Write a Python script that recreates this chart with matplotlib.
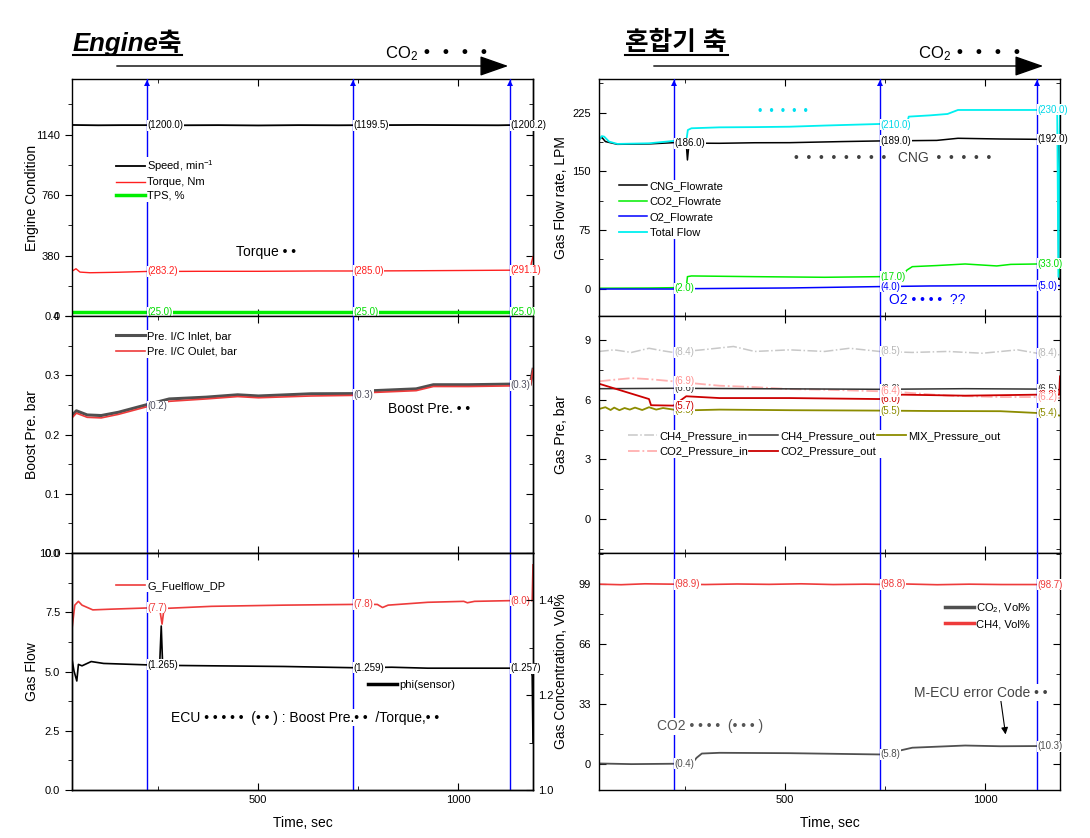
import matplotlib
matplotlib.use('Agg')
import numpy as np
import matplotlib.pyplot as plt
from matplotlib.ticker import MultipleLocator
from matplotlib.lines import Line2D

plt.rcParams['font.family'] = ['Liberation Sans', 'Noto Sans CJK KR', 'DejaVu Sans']
plt.rcParams['mathtext.default'] = 'regular'
plt.rcParams['axes.linewidth'] = 1.0

# common time axis and marker times (blue lines)
x_lim = (35, 1187)
t_mark = [222, 736, 1129]

# ---------------- engine side ----------------
t_spd = [35, 100, 160, 222, 300, 400, 500, 600, 700, 736, 800, 900, 1000, 1100, 1129, 1187]
speed = [1201, 1199, 1200, 1200, 1199, 1200, 1198, 1200, 1199, 1199.5, 1200, 1201, 1200, 1199, 1200.2, 1200]
t_trq = [35, 45, 55, 80, 150, 222, 255, 259, 263, 350, 500, 650, 736, 850, 1000, 1129, 1180, 1183, 1187]
torque = [282, 297, 276, 272, 275, 280, 280, 250, 280, 281, 281, 283, 283, 284, 286, 288, 288, 335, 372]
t_tps = [35, 1187]
tps = [25, 25]
lab_speed = ['(1200.0)', '(1199.5)', '(1200.2)']
lab_torque = ['(283.2)', '(285.0)', '(291.1)']
lab_tps = ['(25.0)', '(25.0)', '(25.0)']

t_bst = [35, 46, 73, 108, 151, 223, 278, 370, 449, 501, 632, 736, 790, 895, 938, 1026, 1129, 1180, 1187]
boost_in = [0.232, 0.240, 0.233, 0.232, 0.2375, 0.2505, 0.260, 0.263, 0.267, 0.265, 0.2687,
            0.269, 0.274, 0.277, 0.284, 0.284, 0.285, 0.284, 0.31]
boost_out = [0.228, 0.236, 0.229, 0.228, 0.234, 0.247, 0.256, 0.260, 0.264, 0.262, 0.265,
             0.266, 0.271, 0.274, 0.281, 0.281, 0.282, 0.281, 0.31]
lab_boost = ['(0.2)', '(0.3)', '(0.3)']

t_fuel = [35, 42, 51, 60, 87, 132, 222, 254, 260, 265, 384, 564, 737, 798, 811, 825, 924,
          1014, 1023, 1041, 1131, 1185, 1187]
fuel = [6.8, 7.8, 7.96, 7.8, 7.6, 7.63, 7.68, 7.66, 7.0, 7.66, 7.75, 7.8, 7.83, 7.83, 7.7,
        7.8, 7.92, 7.96, 7.9, 7.96, 7.99, 7.99, 9.5]
t_phi = [35, 40, 47, 51, 60, 83, 114, 222, 254, 258, 261, 264, 384, 564, 737, 834, 924,
         1131, 1182, 1185, 1187]
phi = [1.276, 1.251, 1.230, 1.265, 1.262, 1.271, 1.267, 1.264, 1.263, 1.346, 1.275, 1.263,
       1.262, 1.2606, 1.258, 1.259, 1.257, 1.257, 1.257, 1.24, 1.10]
lab_fuel = ['(7.7)', '(7.8)', '(8.0)']
lab_phi = ['(1.265)', '(1.259)', '(1.257)']

# ---------------- mixer side ----------------
t_cng = [35, 42, 51, 81, 160, 221, 253, 256, 260, 336, 424, 511, 643, 736, 818, 879, 932,
         1038, 1130, 1182, 1184, 1187]
cng = [190.9, 193.4, 188, 184.5, 185, 186.6, 186, 164.5, 186, 185.8, 186.5, 186.6, 188,
       188.8, 189.2, 189.5, 192.2, 191.3, 190.9, 191, 12, 12]
t_tot = [35, 42, 48, 60, 81, 160, 221, 253, 257, 266, 336, 424, 511, 599, 736, 805, 809,
         862, 906, 932, 1038, 1130, 1180, 1183, 1187]
total = [190, 195, 194.3, 188, 185, 185.8, 188.8, 188, 202.8, 205, 206.2, 206.5, 207, 208.5,
         210.5, 211.5, 219.9, 221.5, 223.3, 228.4, 228.4, 228.4, 229, 15, 232]
t_co2f = [35, 160, 221, 253, 256, 266, 424, 599, 736, 792, 805, 818, 879, 950, 1029, 1064,
          1130, 1182, 1187]
co2f = [0.5, 0.8, 1.2, 1.0, 15.3, 16.2, 15.3, 14.5, 15.3, 16, 23.9, 28.1, 29.5, 31.5, 29, 31,
        31.5, 31, 20]
t_o2f = [35, 221, 231, 274, 511, 736, 862, 1130, 1187]
o2f = [-0.5, -0.5, -1, 0, 0.85, 2.6, 3.4, 3.8, 3.8]
lab_cng = ['(186.0)', '(189.0)', '(192.0)']
lab_tot = [None, '(210.0)', '(230.0)']
lab_co2f = ['(2.0)', '(17.0)', '(33.0)']
lab_o2f = [None, '(4.0)', '(5.0)']

t_ch4in = [35, 73, 116, 160, 195, 221, 292, 371, 424, 511, 599, 661, 736, 818, 906, 993,
           1081, 1130, 1187]
ch4_in = [8.42, 8.5, 8.37, 8.58, 8.45, 8.37, 8.5, 8.67, 8.42, 8.5, 8.42, 8.58, 8.42, 8.37,
          8.42, 8.33, 8.5, 8.33, 8.25]
t_ch4out = [35, 221, 424, 736, 950, 1130, 1187]
ch4_out = [6.55, 6.57, 6.55, 6.52, 6.55, 6.53, 6.5]
t_co2in = [35, 73, 116, 160, 221, 266, 336, 424, 511, 599, 736, 792, 906, 1038, 1130, 1187]
co2_in = [6.92, 7.0, 7.08, 7.03, 6.92, 6.83, 6.7, 6.63, 6.53, 6.5, 6.42, 6.37, 6.2, 6.13,
          6.13, 6.08]
t_co2out = [35, 160, 165, 221, 253, 336, 511, 736, 792, 950, 1130, 1185, 1187]
co2_out = [6.8, 6.03, 5.72, 5.7, 6.17, 6.08, 6.08, 6.03, 6.25, 6.2, 6.25, 6.25, 7.17]
t_mix = [35, 51, 64, 73, 86, 99, 112, 125, 143, 160, 178, 195, 221, 231, 336, 511, 736, 862,
         1038, 1130, 1187]
mix_out = [5.53, 5.62, 5.48, 5.6, 5.47, 5.58, 5.5, 5.6, 5.48, 5.62, 5.5, 5.58, 5.5, 5.45,
           5.5, 5.47, 5.45, 5.43, 5.42, 5.33, 5.2]
lab_ch4in = ['(8.4)', '(8.5)', '(8.4)']
lab_ch4out = ['(6.6)', '(6.6)', '(6.5)']
lab_co2in = ['(6.9)', '(6.4)', '(6.2)']
lab_co2out = ['(5.7)', '(6.0)', '(6.2)']
lab_mix = ['(5.5)', '(5.5)', '(5.4)']

t_ch4c = [35, 90, 150, 221, 300, 380, 460, 540, 620, 700, 736, 800, 880, 960, 1040, 1130, 1187]
ch4_conc = [98.9, 98.6, 99.1, 98.9, 98.7, 99.0, 98.8, 99.1, 98.7, 98.9, 98.8, 99.0, 98.6,
            98.9, 98.7, 98.7, 98.8]
t_co2c = [35, 116, 221, 266, 279, 292, 336, 511, 736, 774, 788, 818, 862, 950, 1038, 1130]
co2_conc = [0.55, 0.2, 0.4, 0.1, 3.7, 6.0, 6.4, 6.2, 5.5, 5.7, 7.7, 9.2, 9.6, 10.4, 10.0, 10.1]
lab_ch4c = ['(98.9)', '(98.8)', '(98.7)']
lab_co2c = ['(0.4)', '(5.8)', '(10.3)']

LW_FRAC = 461 / 1090
H_FRAC = 237 / 838
XL, XR = 72 / 1090, 599 / 1090
Y_TOP, Y_MID, Y_BOT = 1 - 316 / 838, 1 - 553 / 838, 1 - 790 / 838

fig = plt.figure(figsize=(10.9, 8.38), dpi=100)


def frame(ax, ylim, major, minor, left_out, xlab):
    ax.set_xlim(x_lim)
    ax.set_ylim(ylim)
    ax.xaxis.set_major_locator(MultipleLocator(500))
    ax.xaxis.set_minor_locator(MultipleLocator(250))
    ax.yaxis.set_major_locator(MultipleLocator(major))
    ax.yaxis.set_minor_locator(MultipleLocator(minor))
    ax.tick_params(axis='x', which='both', direction='in', top=True, bottom=True,
                   labelbottom=xlab, labelsize=8)
    if left_out:
        ax.tick_params(axis='y', which='both', direction='out', right=False, labelsize=8)
    else:
        ax.tick_params(axis='y', which='both', direction='in', right=True, labelsize=8, pad=6)
    ax.tick_params(which='major', length=5)
    ax.tick_params(which='minor', length=3)
    for t in t_mark:
        ax.axvline(t, color='blue', lw=1, zorder=3)
    if xlab:
        ax.set_xlabel('Time, sec', fontsize=10, labelpad=8)


def right_ticks(ax, major, minor):
    sec = ax.secondary_yaxis('right')
    sec.yaxis.set_major_locator(MultipleLocator(major))
    sec.yaxis.set_minor_locator(MultipleLocator(minor))
    sec.tick_params(which='both', direction='in', labelright=False)
    sec.tick_params(which='major', length=5)
    sec.tick_params(which='minor', length=3)


def tags(ax, vals, labels, color):
    for t, v, s in zip(t_mark, vals, labels):
        if s is None:
            continue
        ax.text(t + 2, v, s, color=color, fontsize=7, ha='left', va='center', zorder=6,
                bbox=dict(boxstyle='square,pad=0.05', fc='white', ec='none'))


def leg(ax, anchor, spacing=0.5, **kw):
    lg = ax.legend(loc='upper left', bbox_to_anchor=anchor, fontsize=8, frameon=True,
                   facecolor='white', edgecolor='none', framealpha=1, handlelength=2.6,
                   handletextpad=0.2, labelspacing=spacing, borderpad=0.1, borderaxespad=0,
                   **kw)
    lg.set_zorder(7)
    return lg


def top_heads(ax):
    ax.plot(t_mark, [0.985] * 3, '^', color='blue', ms=5, mew=0,
            transform=ax.get_xaxis_transform(), clip_on=False, zorder=4)


# ---- top left: engine condition
ax1 = fig.add_axes([XL, Y_TOP, LW_FRAC, H_FRAC])
frame(ax1, (0, 1490), 380, 190, True, False)
right_ticks(ax1, 380, 190)
ax1.plot(t_spd, speed, color='black', lw=1.3, label='Speed, min$^{-1}$')
ax1.plot(t_trq, torque, color='#ff2020', lw=1, label='Torque, Nm')
ax1.plot(t_tps, tps, color='#00ee00', lw=2.5, label='TPS, %')
tags(ax1, [1200, 1199.5, 1200.2], lab_speed, 'black')
tags(ax1, [281, 283, 288], lab_torque, '#ff2020')
tags(ax1, [25, 25, 25], lab_tps, '#00dd00')
leg(ax1, (0.093, 0.67), spacing=0.3)
ax1.text(445, 404, 'Torque • •', fontsize=10, va='center')
ax1.set_ylabel('Engine Condition', fontsize=10)
ax1.yaxis.set_label_coords(-0.072, 0.5)
top_heads(ax1)

# ---- middle left: boost pressure
ax2 = fig.add_axes([XL, Y_MID, LW_FRAC, H_FRAC])
frame(ax2, (0, 0.4), 0.1, 0.05, True, False)
right_ticks(ax2, 0.1, 0.05)
ax2.plot(t_bst, boost_in, color='#505050', lw=2.2, label='Pre. I/C Inlet, bar')
ax2.plot(t_bst, boost_out, color='#ee3b3b', lw=1.2, label='Pre. I/C Oulet, bar')
tags(ax2, [0.248, 0.267, 0.283], lab_boost, '#505060')
leg(ax2, (0.093, 0.94))
ax2.text(825, 0.243, 'Boost Pre. • •', fontsize=10, va='center',
         bbox=dict(boxstyle='square,pad=0.1', fc='white', ec='none'), zorder=6)
ax2.set_ylabel('Boost Pre. bar', fontsize=10)
ax2.yaxis.set_label_coords(-0.072, 0.5)

# ---- bottom left: gas flow + phi
ax3 = fig.add_axes([XL, Y_BOT, LW_FRAC, H_FRAC])
frame(ax3, (0, 10), 2.5, 1.25, True, True)
ax3.plot(t_fuel, fuel, color='#ee3b3b', lw=1.2, label='G_Fuelflow_DP')
tags(ax3, [7.68, 7.83, 7.99], lab_fuel, '#ee3b3b')
leg(ax3, (0.093, 0.885))
ax3.set_ylabel('Gas Flow', fontsize=10)
ax3.yaxis.set_label_coords(-0.072, 0.5)
ax3.text(282, 3.05, 'ECU • • • • •  (• • ) : Boost Pre.• •  /Torque,• •', fontsize=10,
         va='center', bbox=dict(boxstyle='square,pad=0.1', fc='white', ec='none'), zorder=6)
ax3b = ax3.twinx()
ax3b.set_ylim(1.0, 1.5)
ax3b.yaxis.set_major_locator(MultipleLocator(0.2))
ax3b.yaxis.set_minor_locator(MultipleLocator(0.1))
ax3b.tick_params(which='both', direction='in', labelsize=8)
ax3b.tick_params(which='major', length=5)
ax3b.tick_params(which='minor', length=3)
ax3b.plot(t_phi, phi, color='black', lw=1.2, label='phi(sensor)')
tags(ax3b, [1.264, 1.258, 1.257], lab_phi, 'black')
lg = ax3b.legend(loc='upper left', bbox_to_anchor=(0.64, 0.47), fontsize=8, frameon=False,
                 handlelength=2.6, handletextpad=0.2, borderpad=0.1, borderaxespad=0)
for h in lg.get_lines():
    h.set_linewidth(2.5)

# ---- top right: gas flow rate
ax4 = fig.add_axes([XR, Y_TOP, LW_FRAC, H_FRAC])
frame(ax4, (-35, 268), 75, 37.5, False, False)
ax4.plot(t_cng, cng, color='black', lw=1.1, label='CNG_Flowrate')
ax4.plot(t_co2f, co2f, color='#00ee00', lw=1.1, label='CO2_Flowrate')
ax4.plot(t_o2f, o2f, color='#0000ff', lw=1.1, label='O2_Flowrate')
ax4.plot(t_tot, total, color='#00f0f0', lw=1.3, label='Total Flow')
tags(ax4, [186, 188.8, 190.9], lab_cng, 'black')
tags(ax4, [None, 209.5, 228.4], lab_tot, '#00d8e8')
tags(ax4, [0.5, 15.3, 31.5], lab_co2f, '#00dd00')
tags(ax4, [None, 2.6, 3.8], lab_o2f, '#0000ff')
leg(ax4, (0.04, 0.575))
ax4.text(432, 226, '•  •  •  •  •', color='#00e0f0', fontsize=9, va='center')
ax4.text(522, 167, '•  •  •  •  •  •  •  •   CNG  •  •  •  •  •', color='#404040',
         fontsize=10, va='center')
ax4.text(760, -14, 'O2 • • • •  ??', color='#0000ff', fontsize=10, va='center')
ax4.set_ylabel('Gas Flow rate, LPM', fontsize=10)
ax4.yaxis.set_label_coords(-0.068, 0.5)
top_heads(ax4)

# ---- middle right: gas pressure
ax5 = fig.add_axes([XR, Y_MID, LW_FRAC, H_FRAC])
frame(ax5, (-1.7, 10.2), 3, 1.5, False, False)
h1, = ax5.plot(t_ch4in, ch4_in, color='#c8c8c8', lw=1.1, ls='-.', label='CH4_Pressure_in')
h2, = ax5.plot(t_co2in, co2_in, color='#ffb0b0', lw=1.3, ls='-.', label='CO2_Pressure_in')
h3, = ax5.plot(t_ch4out, ch4_out, color='#333333', lw=1.1, label='CH4_Pressure_out')
h4, = ax5.plot(t_co2out, co2_out, color='#cc0000', lw=1.3, label='CO2_Pressure_out')
h5, = ax5.plot(t_mix, mix_out, color='#8c8c00', lw=1.3, label='MIX_Pressure_out')
tags(ax5, [5.5, 5.45, 5.33], lab_mix, '#8c8c00')
tags(ax5, [6.57, 6.52, 6.53], lab_ch4out, '#333333')
tags(ax5, [5.7, 6.03, 6.25], lab_co2out, '#cc0000')
tags(ax5, [6.92, 6.42, 6.13], lab_co2in, '#ff9090')
tags(ax5, [8.37, 8.42, 8.33], lab_ch4in, '#b8b8b8')
leg(ax5, (0.06, 0.52), handles=[h1, h2, h3, h4, h5], ncol=3, columnspacing=0.1)
ax5.set_ylabel('Gas Pre, bar', fontsize=10)
ax5.yaxis.set_label_coords(-0.068, 0.5)

# ---- bottom right: gas concentration
ax6 = fig.add_axes([XR, Y_BOT, LW_FRAC, H_FRAC])
frame(ax6, (-14, 116), 33, 16.5, False, True)
ax6.plot(t_co2c, co2_conc, color='#505050', lw=1.3, label='CO$_2$, Vol%')
ax6.plot(t_ch4c, ch4_conc, color='#ee3b3b', lw=1.2, label='CH4, Vol%')
tags(ax6, [98.9, 98.8, 98.7], lab_ch4c, '#ee3b3b')
tags(ax6, [0.4, 5.5, 10.1], lab_co2c, '#505050')
lg6 = leg(ax6, (0.748, 0.80), spacing=0.35)
for h in lg6.get_lines():
    h.set_linewidth(2.5)
ax6.text(180, 21, 'CO2 • • • •  (• • • )', color='#555555', fontsize=10, va='center',
         bbox=dict(boxstyle='square,pad=0.1', fc='white', ec='none'), zorder=6)
ax6.annotate('M-ECU error Code • •', xy=(1051, 16.5), xytext=(822, 39.4), color='#444444',
             fontsize=10, va='center',
             bbox=dict(boxstyle='square,pad=0.1', fc='white', ec='none'),
             arrowprops=dict(arrowstyle='-|>', color='black', lw=0.8, shrinkA=0, shrinkB=0,
                             relpos=(0.65, 0.0)), zorder=6)
ax6.set_ylabel('Gas Concentration, Vol%', fontsize=10)
ax6.yaxis.set_label_coords(-0.068, 0.5)

# ---- headers
fig.text(73 / 1090, 1 - 43 / 838, 'Engine축', fontsize=18.5, fontweight='bold',
         fontstyle='italic', va='center', ha='left')
fig.add_artist(Line2D([73 / 1090, 182 / 1090], [1 - 55 / 838] * 2, color='black', lw=1.5))
fig.text(625 / 1090, 1 - 43 / 838, '혼합기 축', fontsize=18.5, fontweight='bold',
         va='center', ha='left')
fig.add_artist(Line2D([625 / 1090, 728 / 1090], [1 - 55 / 838] * 2, color='black', lw=1.5))

for x0, x1, xt in [(114, 511, 385), (651, 1046, 918)]:
    fig.add_artist(matplotlib.patches.FancyArrowPatch(
        (x0 / 1090, 1 - 66 / 838), (x1 / 1090, 1 - 66 / 838), transform=fig.transFigure,
        arrowstyle='-|>,head_length=1.0,head_width=0.35', mutation_scale=18, color='black',
        lw=1))
    fig.text(xt / 1090, 1 - 54 / 838, 'CO$_2$ •  •  •  •', fontsize=12, va='center', ha='left')

fig.savefig('out.png', dpi=100)
